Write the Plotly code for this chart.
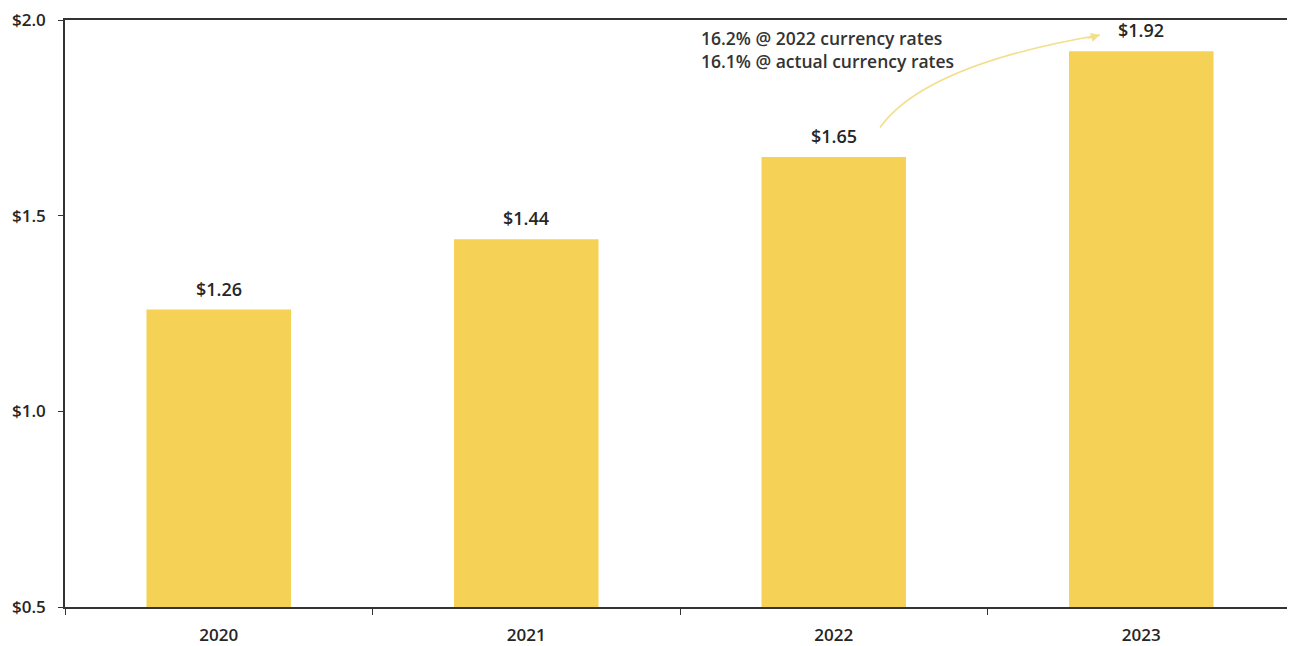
import plotly.graph_objects as go

years = ["2020", "2021", "2022", "2023"]
values = [1.26, 1.44, 1.65, 1.92]
labels = ["$1.26", "$1.44", "$1.65", "$1.92"]
y_ticks = [0.5, 1.0, 1.5, 2.0]
y_tick_text = ["$0.5", "$1.0", "$1.5", "$2.0"]
note_lines = ["16.2% @ 2022 currency rates", "16.1% @ actual currency rates"]

FONT = "Open Sans"
AX = "#333333"
BAR = "#F5D255"
TXT = "#262626"

# page has 8px body margin; plot area in the shot: x 65..1295, y 17..607
W, H = 1287, 638
L, T, B = 57, 9, 39
PW, PH = W - L, H - T - B

fig = go.Figure()
fig.add_trace(go.Bar(
    x=years, y=values, width=0.47, marker_color=BAR, marker_line_width=0,
))
for i, (v, lab) in enumerate(zip(values, labels)):
    fig.add_annotation(x=i, y=v, text=lab, showarrow=False, yanchor="bottom",
                       yshift=7,
                       font=dict(family=FONT, size=18, color=TXT, weight=600))

fig.update_layout(
    width=W, height=H,
    margin=dict(l=L, r=0, t=T, b=B),
    paper_bgcolor="white", plot_bgcolor="white",
    showlegend=False,
    xaxis=dict(
        type="category", range=[-0.5, len(years) - 0.5],
        showline=True, linecolor=AX, linewidth=1.5, mirror=True,
        ticks="outside", tickson="boundaries", ticklen=6, tickcolor=AX,
        ticklabelstandoff=12,
        tickfont=dict(family=FONT, size=17, color=TXT, weight=600),
        showgrid=False,
    ),
    yaxis=dict(
        range=[0.5, 2.0], tickvals=y_ticks, ticktext=y_tick_text,
        showline=True, linecolor=AX, linewidth=1.5,
        ticks="outside", ticklen=5, tickcolor=AX, ticklabeloverflow="allow",
        ticklabelstandoff=9,
        tickfont=dict(family=FONT, size=17, color=TXT, weight=600),
        showgrid=False, zeroline=False,
    ),
)

def px(xs):
    return (xs - 8 - L) / PW

def py(ys):
    return (H - B - (ys - 8)) / PH

# curved arrow (paper coordinates)
x0, y0 = px(880), py(125)
cx, cy = px(925), py(62)
x1, y1 = px(1100), py(32)
fig.add_shape(type="path", xref="paper", yref="paper",
              path=f"M {x0},{y0} Q {cx},{cy} {x1},{y1}",
              line=dict(color="#F3DE8A", width=1.5))
fig.add_annotation(xref="paper", yref="paper", x=x1, y=y1, ax=-14, ay=4,
                   showarrow=True, arrowhead=2, arrowsize=1.4, arrowwidth=1.3,
                   arrowcolor="#F3DE8A", text="")

for i, line in enumerate(note_lines):
    fig.add_annotation(xref="paper", yref="paper", x=px(699), y=py(35 + 23 * i),
                       xanchor="left", yanchor="middle", showarrow=False,
                       text=line,
                       font=dict(family=FONT, size=17.5, color="#333333", weight=600))

fig.write_html("out.html")
